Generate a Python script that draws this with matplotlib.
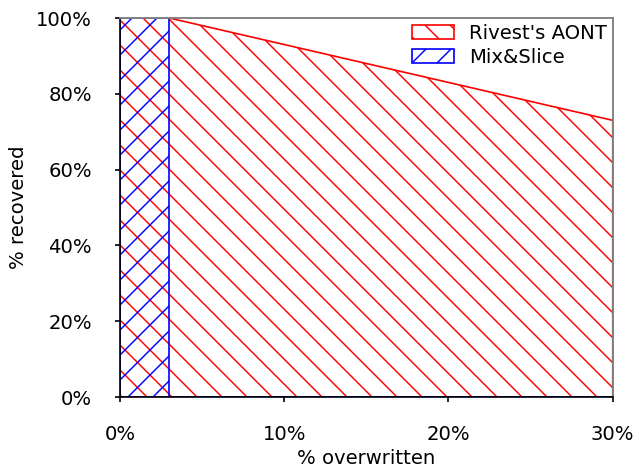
import matplotlib.pyplot as plt
import matplotlib.patches as mpatches
from matplotlib.ticker import FuncFormatter

# share of data recovered after a given share of the blocks is overwritten
aont_x = [0, 3, 5, 10, 15, 20, 25, 30]
aont_y = [100, 100, 98, 93, 88, 83, 78, 73]

mix_x = [0, 3, 3, 30]
mix_y = [100, 100, 0, 0]

x_ticks = [0, 10, 20, 30]
y_ticks = [0, 20, 40, 60, 80, 100]

plt.rcParams['hatch.linewidth'] = 0.7
plt.rcParams['font.family'] = 'DejaVu Sans'

fig = plt.figure(figsize=(637 / 150, 468 / 150), dpi=150)
ax = fig.add_axes([0.1884, 0.1517, 0.7735, 0.8098])

ax.fill_between(aont_x, aont_y, 0, facecolor='none', edgecolor='red',
                hatch='\\\\', linewidth=0.8)
ax.fill_between(mix_x, mix_y, 0, facecolor='none', edgecolor='blue',
                hatch='//', linewidth=0.8)

ax.set_xlim(0, 30)
ax.set_ylim(0, 100)
ax.set_xticks(x_ticks)
ax.set_yticks(y_ticks)
pct = FuncFormatter(lambda v, p: '%d%%' % v)
ax.xaxis.set_major_formatter(pct)
ax.yaxis.set_major_formatter(pct)
ax.tick_params(direction='out', length=2.4, width=0.8, labelsize=9.4, pad=11)

for side in ['top', 'right']:
    ax.spines[side].set_color('#808080')
    ax.spines[side].set_linewidth(0.9)
for side in ['left', 'bottom']:
    ax.spines[side].set_linewidth(0.8)

ax.set_xlabel('% overwritten', fontsize=9.4, labelpad=2.5)
ax.set_ylabel('% recovered', fontsize=9.4, labelpad=4)

handles = [
    mpatches.Patch(facecolor='none', edgecolor='red', hatch='\\\\', linewidth=0.8),
    mpatches.Patch(facecolor='none', edgecolor='blue', hatch='//', linewidth=0.8),
]
ax.legend(handles, ["Rivest's AONT", 'Mix&Slice'], loc='upper right',
          frameon=False, fontsize=9.4, handlelength=2.15, handleheight=0.77,
          handletextpad=0.75, labelspacing=0.25, borderaxespad=0.1, borderpad=0.2)

fig.savefig('out.png', dpi=150)
